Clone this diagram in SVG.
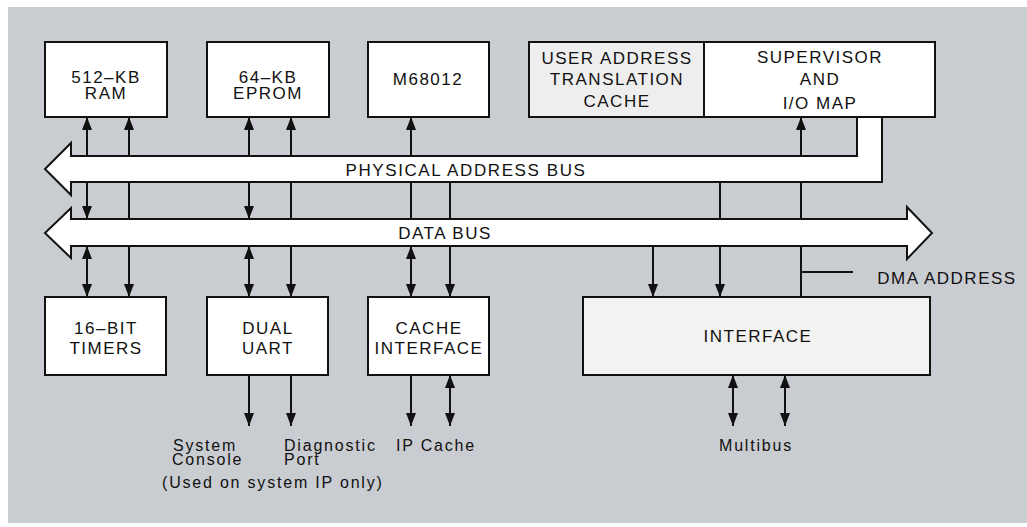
<svg xmlns="http://www.w3.org/2000/svg" width="1027" height="527" viewBox="0 0 1027 527">
  <style>
    .box { fill: #ffffff; stroke: #111111; stroke-width: 2; }
    .box.tint { fill: #eeeeee; }
    .bus { fill: #ffffff; stroke: #111111; stroke-width: 2; stroke-linejoin: miter; }
    .lbl { font-family: "Liberation Sans", Arial, Helvetica, sans-serif; font-size: 17px; letter-spacing: 1.5px; fill: #111111; text-anchor: middle; }
    .note { font-family: "Liberation Sans", Arial, Helvetica, sans-serif; font-size: 16px; letter-spacing: 1.8px; fill: #111111; }
    .wire { stroke: #111111; stroke-width: 2; fill: none; }
    .up { marker-end: url(#head); }
    .dn { marker-end: url(#head); }
    .both { marker-start: url(#head); marker-end: url(#head); }
  </style>
  <defs>
    <marker id="head" viewBox="0 0 13 10" refX="13" refY="5" markerWidth="13" markerHeight="10" markerUnits="userSpaceOnUse" orient="auto-start-reverse">
      <path d="M0,0 L13,5 L0,10 z" fill="#111111"/>
    </marker>
  </defs>

  <!-- panel background -->
  <rect x="0" y="0" width="1027" height="527" fill="#ffffff"/>
  <rect x="8" y="7" width="1019" height="516" fill="#c9ccd0"/>

  <!-- connectors -->
  <g id="connectors">
    <!-- physical address bus up to the top row -->
    <line class="wire up" x1="87" y1="156" x2="87" y2="117"/>
    <line class="wire up" x1="129" y1="156" x2="129" y2="117"/>
    <line class="wire up" x1="249" y1="156" x2="249" y2="117"/>
    <line class="wire up" x1="291" y1="156" x2="291" y2="117"/>
    <line class="wire up" x1="411" y1="156" x2="411" y2="117"/>
    <line class="wire up" x1="801" y1="156" x2="801" y2="117"/>

    <!-- between the two buses -->
    <line class="wire dn" x1="87" y1="182" x2="87" y2="219"/>
    <line class="wire" x1="129" y1="182" x2="129" y2="219"/>
    <line class="wire dn" x1="249" y1="182" x2="249" y2="219"/>
    <line class="wire" x1="291" y1="182" x2="291" y2="219"/>
    <line class="wire" x1="411" y1="182" x2="411" y2="219"/>
    <line class="wire" x1="450" y1="182" x2="450" y2="219"/>
    <line class="wire" x1="720" y1="182" x2="720" y2="219"/>
    <line class="wire" x1="801" y1="182" x2="801" y2="219"/>

    <!-- data bus down to the bottom row -->
    <line class="wire both" x1="87" y1="246" x2="87" y2="297"/>
    <line class="wire dn" x1="129" y1="246" x2="129" y2="297"/>
    <line class="wire both" x1="249" y1="246" x2="249" y2="297"/>
    <line class="wire dn" x1="291" y1="246" x2="291" y2="297"/>
    <line class="wire both" x1="411" y1="246" x2="411" y2="297"/>
    <line class="wire dn" x1="450" y1="246" x2="450" y2="297"/>
    <line class="wire dn" x1="653" y1="246" x2="653" y2="297"/>
    <line class="wire dn" x1="720" y1="246" x2="720" y2="297"/>
    <line class="wire" x1="801" y1="246" x2="801" y2="297"/>
    <line class="wire" x1="801" y1="272" x2="853" y2="272"/>

    <!-- external ports -->
    <line class="wire dn" x1="249" y1="375" x2="249" y2="426"/>
    <line class="wire dn" x1="291" y1="375" x2="291" y2="426"/>
    <line class="wire dn" x1="411" y1="375" x2="411" y2="426"/>
    <line class="wire both" x1="450" y1="375" x2="450" y2="426"/>
    <line class="wire both" x1="733" y1="375" x2="733" y2="426"/>
    <line class="wire both" x1="785" y1="375" x2="785" y2="426"/>
  </g>

  <!-- buses -->
  <g id="physical-address-bus">
    <path class="bus" d="M71,156 H857 V117 H882 V182 H71 V195 L45,169 L71,143 Z"/>
    <text class="lbl" x="466" y="176" style="letter-spacing:1.6px">PHYSICAL ADDRESS BUS</text>
  </g>
  <g id="data-bus">
    <path class="bus" d="M71,219 H907 V207 L932,233 L907,259 V246 H71 V258 L45,233 L71,208 Z"/>
    <text class="lbl" x="445" y="239">DATA BUS</text>
  </g>

  <!-- top row -->
  <g id="ram">
    <rect class="box" x="45" y="42" width="122" height="75"/>
    <text class="lbl" x="106" y="83">512–KB</text>
    <text class="lbl" x="106" y="99">RAM</text>
  </g>
  <g id="eprom">
    <rect class="box" x="207" y="42" width="122" height="75"/>
    <text class="lbl" x="268" y="83">64–KB</text>
    <text class="lbl" x="268" y="99">EPROM</text>
  </g>
  <g id="cpu">
    <rect class="box" x="368" y="42" width="121" height="75"/>
    <text class="lbl" x="428" y="85">M68012</text>
  </g>
  <g id="user-atc">
    <rect class="box tint" x="529" y="42" width="175" height="75"/>
    <text class="lbl" x="617" y="64">USER ADDRESS</text>
    <text class="lbl" x="617" y="85">TRANSLATION</text>
    <text class="lbl" x="617" y="107">CACHE</text>
  </g>
  <g id="supervisor-map">
    <rect class="box" x="704" y="42" width="231" height="75"/>
    <text class="lbl" x="820" y="63">SUPERVISOR</text>
    <text class="lbl" x="820" y="85">AND</text>
    <text class="lbl" x="820" y="109">I/O MAP</text>
  </g>

  <!-- bottom row -->
  <g id="timers">
    <rect class="box" x="45" y="297" width="121" height="78"/>
    <text class="lbl" x="106" y="334">16–BIT</text>
    <text class="lbl" x="106" y="354">TIMERS</text>
  </g>
  <g id="uart">
    <rect class="box" x="207" y="297" width="121" height="78"/>
    <text class="lbl" x="268" y="334">DUAL</text>
    <text class="lbl" x="268" y="354">UART</text>
  </g>
  <g id="cache-interface">
    <rect class="box" x="368" y="297" width="121" height="78"/>
    <text class="lbl" x="429" y="334">CACHE</text>
    <text class="lbl" x="429" y="354">INTERFACE</text>
  </g>
  <g id="interface">
    <rect class="box tint" x="583" y="297" width="347" height="78" style="fill:#f2f2f0"/>
    <text class="lbl" x="758" y="342">INTERFACE</text>
  </g>

  <!-- labels -->
  <g id="dma-address">
    <text class="lbl" x="947" y="284">DMA ADDRESS</text>
  </g>
  <g id="port-labels">
    <text class="note" x="173" y="451">System</text>
    <text class="note" x="172" y="465">Console</text>
    <text class="note" x="284" y="451">Diagnostic</text>
    <text class="note" x="284" y="465">Port</text>
    <text class="note" x="396" y="451">IP Cache</text>
    <text class="note" x="162" y="488">(Used on system IP only)</text>
    <text class="note" x="719" y="451">Multibus</text>
  </g>
</svg>
